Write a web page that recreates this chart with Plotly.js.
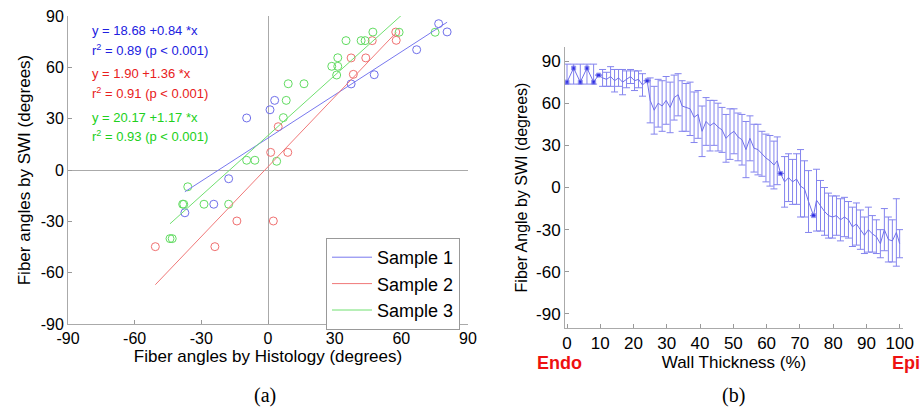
<!DOCTYPE html>
<html><head><meta charset="utf-8">
<script src="https://cdn.plot.ly/plotly-3.0.1.min.js"></script>
<style>html,body{margin:0;padding:0;background:#fff}#plot{width:921px;height:410px}</style>
</head><body><div id="plot"></div>
<script>
// ---- Panel (a): scatter data (histology angle x, SWI angle y) ----
const s1x = [76.8, 80.6, 66.9, 47.8, 37.4, 3.0, 0.9, -9.6, -17.7, -24.4, -37.4];
const s1y = [85.5, 80.7, 70.3, 55.7, 50.3, 40.7, 35.2, 30.4, -5.1, -20.0, -25.0];
const s2x = [57.5, 57.7, 46.9, 37.4, 44.0, 38.4, 4.6, 1.2, 8.9, -14.0, 2.4, -50.7, -23.9];
const s2y = [80.6, 75.8, 75.6, 65.5, 65.5, 55.9, 25.3, 10.3, 10.3, -29.8, -29.8, -44.8, -44.8];
const s3x = [35.1, 41.9, 43.7, 47.2, 59.0, 75.2, 31.4, 28.7, 31.4, 30.9, 9.1, 16.2, 8.2, 6.9, -9.6, -5.9, 3.9, -36.1, -38.4, -37.9, -28.8, -17.7, -44.1, -43.1];
const s3y = [75.6, 75.6, 75.6, 80.6, 80.5, 80.5, 65.6, 60.6, 60.6, 55.5, 50.4, 50.4, 40.7, 30.6, 5.7, 5.7, 5.1, -9.8, -20.0, -20.0, -20.0, -20.0, -40.1, -40.1];
// regression coefficients [intercept, slope]
const fitIntercepts = [18.68, 1.90, 20.17];
const fitSlopes = [0.84, 1.36, 1.17];
const fitR2 = ["0.89", "0.91", "0.93"];
const sampleNames = ["Sample 1", "Sample 2", "Sample 3"];
const angleTicks = [-90, -60, -30, 0, 30, 60, 90];
const angleTickText = ["-90", "-60", "-30", "0", "30", "60", "90"];

// ---- Panel (b): mean fiber angle vs wall thickness ----
const wallX = [0, 2, 4, 6, 8, 9.5, 10.7, 11.9, 13.1, 14.3, 15.5, 16.7, 17.9, 19.1, 20.3, 21.5, 22.7, 24.1,
  25, 26.2, 27.4, 28.6, 29.8, 31, 32.2, 33.4, 34.6, 35.8, 37, 38.2, 39.4, 40.6, 41.8, 43, 44.2, 45.4, 46.6,
  47.8, 49, 50.2, 51.4, 52.6, 53.8, 55, 56.2, 57.4, 58.6, 59.8, 61, 62.2, 63.2, 64.2, 65.4, 66.6, 67.8,
  69, 70.2, 71.4, 72.6, 74.1, 75, 76.2, 77.4, 78.6, 79.8, 81, 82.2, 83.4, 84.6, 85.8, 87, 88.2, 89.4,
  90.6, 91.8, 93, 94.2, 95.4, 96.6, 97.8, 99, 100];
const wallY = [75, 85, 75, 85, 75, 80, 78, 77, 79, 76, 78, 75, 77, 79, 76, 77, 73, 76,
  62, 55, 60, 58, 62, 57, 64, 66, 58, 57, 56, 50, 52, 40, 47, 44, 46, 43, 41,
  35, 38, 40, 36, 34, 27, 35, 28, 27, 24, 21, 19, 16, 19, 10, 4, 7, 4,
  6, 1, -1, -10, -20, -9, -13, -17, -20, -21, -20, -23, -21, -23, -28, -26, -30, -34,
  -30, -33, -35, -40, -30, -37, -38, -32, -40];
const errPlus = [12.8, 2.8, 12.8, 2.8, 12.8, 0, 6, 5, 7, 8, 6, 9, 6, 5, 7, 6, 8, 0,
  16, 17, 17, 18, 17, 18, 16, 15, 18, 17, 19, 18, 17, 18, 17, 18, 16, 17, 16,
  17, 18, 16, 17, 18, 20, 16, 17, 18, 16, 17, 18, 17, 17, 0, 18, 17, 16,
  18, 26, 20, 22, 0, 22, 18, 17, 16, 15, 14, 15, 14, 13, 14, 15, 14, 13,
  16, 13, 12, 10, 15, 16, 15, 24, 10];
const errMinus = [1.4, 11.4, 1.4, 11.4, 1.4, 0, 6, 5, 7, 8, 6, 9, 6, 5, 7, 6, 8, 0,
  16, 17, 17, 18, 17, 18, 16, 15, 18, 17, 19, 18, 17, 18, 17, 18, 16, 17, 16,
  17, 18, 16, 17, 18, 20, 16, 17, 18, 16, 17, 18, 17, 17, 0, 18, 17, 16,
  18, 22, 20, 22, 0, 22, 18, 17, 16, 15, 14, 15, 14, 13, 14, 15, 14, 13,
  16, 13, 12, 10, 15, 16, 15, 24, 10];
const wallTicks = [0, 10, 20, 30, 40, 50, 60, 70, 80, 90, 100];

const circleColors = ["#6f6fea", "#f07070", "#62dc62"];
const lineColors = ["#7878ee", "#f07878", "#70e070"];
const textColors = ["#2020e0", "#e82020", "#20d020"];
const FONT = "Liberation Sans, Arial, sans-serif";

const sx = [s1x, s2x, s3x], sy = [s1y, s2y, s3y];
const traces = [];
for (let i = 0; i < 3; i++) {
  traces.push({x: sx[i], y: sy[i], mode: "markers", type: "scatter", xaxis: "x", yaxis: "y",
    showlegend: false, hoverinfo: "skip",
    marker: {symbol: "circle-open", size: 8, color: circleColors[i], line: {width: 1, color: circleColors[i]}}});
}
for (let i = 0; i < 3; i++) {
  const xmin = Math.min(...sx[i]), xmax = Math.max(...sx[i]);
  traces.push({x: [xmin, xmax], y: [fitIntercepts[i] + fitSlopes[i] * xmin, fitIntercepts[i] + fitSlopes[i] * xmax],
    mode: "lines", type: "scatter", xaxis: "x", yaxis: "y", name: sampleNames[i],
    line: {color: lineColors[i], width: 1}});
}
traces.push({x: wallX, y: wallY, type: "scatter", mode: "lines+markers", xaxis: "x2", yaxis: "y2", showlegend: false,
  line: {color: "#7070ea", width: 1},
  marker: {color: "#1010e0", symbol: "square", size: errPlus.map((e, k) => (e === 0 || (k < 5)) ? 4 : 0)},
  error_y: {type: "data", symmetric: false, array: errPlus, arrayminus: errMinus, color: "#8484ee", thickness: 1, width: 3.5}});

const annotations = [];
for (let i = 0; i < 3; i++) {
  const top = [31, 74, 117][i];
  annotations.push({xref: "paper", yref: "paper", x: 90 / 921, y: 1 - top / 410, xanchor: "left", yanchor: "middle",
    showarrow: false, text: "y = " + fitIntercepts[i].toFixed(2) + " +" + fitSlopes[i].toFixed(2) + " *x",
    font: {family: FONT, size: 13, color: textColors[i]}});
  annotations.push({xref: "paper", yref: "paper", x: 90 / 921, y: 1 - (top + 19) / 410, xanchor: "left", yanchor: "middle",
    showarrow: false, text: "r<sup>2</sup> = " + fitR2[i] + " (p &lt; 0.001)",
    font: {family: FONT, size: 13, color: textColors[i]}});
}
annotations.push({xref: "paper", yref: "paper", x: 265 / 921, y: 1 - 395 / 410, xanchor: "center", yanchor: "middle", showarrow: false, text: "(a)",
  font: {family: "Liberation Serif, Times New Roman, serif", size: 20, color: "#000"}});
annotations.push({xref: "paper", yref: "paper", x: 733 / 921, y: 1 - 395 / 410, xanchor: "center", yanchor: "middle", showarrow: false, text: "(b)",
  font: {family: "Liberation Serif, Times New Roman, serif", size: 20, color: "#000"}});
annotations.push({xref: "paper", yref: "paper", x: 535 / 921, y: 1 - 363 / 410, xanchor: "left", yanchor: "middle", showarrow: false, text: "<b>Endo</b>",
  font: {family: FONT, size: 18, color: "#ee1111"}});
annotations.push({xref: "paper", yref: "paper", x: 922 / 921, y: 1 - 363 / 410, xanchor: "right", yanchor: "middle", showarrow: false, text: "<b>Epi</b>",
  font: {family: FONT, size: 18, color: "#ee1111"}});

const axBase = {showgrid: false, ticks: "inside", ticklen: 4, tickcolor: "#999", showline: true, linecolor: "#aaa",
  linewidth: 1, tickfont: {family: FONT, size: 16, color: "#000"}, mirror: false};

const layout = {
  width: 921, height: 410, margin: {l: 0, r: 0, t: 0, b: 0}, paper_bgcolor: "#fff", plot_bgcolor: "#fff",
  showlegend: true,
  legend: {x: 460 / 921, y: 1 - 238 / 410, xanchor: "right", yanchor: "top", bordercolor: "#999", borderwidth: 1,
    bgcolor: "#fff", font: {family: FONT, size: 18, color: "#000"}, tracegroupgap: 0, itemwidth: 40},
  xaxis: Object.assign({}, axBase, {domain: [68 / 921, 468 / 921], range: [-90, 90], tickvals: angleTicks, ticktext: angleTickText,
    zeroline: true, zerolinecolor: "#aaa", zerolinewidth: 1, anchor: "y",
    title: {text: "Fiber angles by Histology (degrees)", font: {family: FONT, size: 17, color: "#000"}, standoff: 3}}),
  yaxis: Object.assign({}, axBase, {domain: [1 - 324 / 410, 1 - 16 / 410], range: [-90, 90], tickvals: angleTicks, ticktext: angleTickText,
    zeroline: true, zerolinecolor: "#aaa", zerolinewidth: 1, anchor: "x",
    title: {text: "Fiber angles by SWI (degrees)", font: {family: FONT, size: 17, color: "#000"}, standoff: 5}}),
  xaxis2: Object.assign({}, axBase, {domain: [565 / 921, 903 / 921], range: [-0.6, 101], tickvals: wallTicks,
    zeroline: false, anchor: "y2", tickfont: {family: FONT, size: 17, color: "#000"},
    title: {text: "Wall Thickness (%)", font: {family: FONT, size: 17, color: "#000"}, standoff: 3}}),
  yaxis2: Object.assign({}, axBase, {domain: [1 - 328 / 410, 1 - 47 / 410], range: [-100, 100], tickvals: angleTicks, ticktext: angleTickText,
    zeroline: false, anchor: "x2", tickfont: {family: FONT, size: 17, color: "#000"},
    title: {text: "Fiber Angle by SWI (degrees)", font: {family: FONT, size: 16, color: "#000"}, standoff: 4}}),
  annotations: annotations
};
Plotly.newPlot("plot", traces, layout, {staticPlot: true, displayModeBar: false});
</script></body></html>
